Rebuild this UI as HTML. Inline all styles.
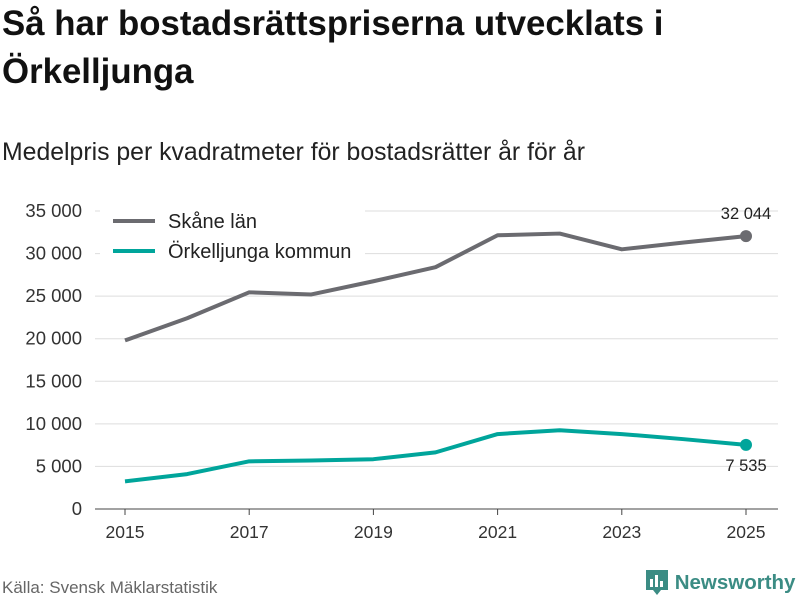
<!DOCTYPE html>
<html><head><meta charset="utf-8">
<style>
body{margin:0;width:800px;height:600px;background:#fff;font-family:"Liberation Sans",sans-serif;overflow:hidden;position:relative;color:#111}
h1{position:absolute;left:2px;top:0px;margin:0;font-size:34.8px;line-height:48px;font-weight:bold;width:720px}
.sub{position:absolute;left:2px;top:139px;font-size:24.8px;color:#222}
.src{position:absolute;left:2px;top:578px;font-size:17px;color:#666}
.logo{position:absolute;left:645px;top:569px;font-size:20.5px;font-weight:bold;color:#3b8c84}
</style></head><body>
<h1>Så har bostadsrättspriserna utvecklats i Örkelljunga</h1>
<div class="sub">Medelpris per kvadratmeter för bostadsrätter år för år</div>
<svg id="chart" width="800" height="600" style="position:absolute;left:0;top:0"></svg>
<div class="src">Källa: Svensk Mäklarstatistik</div>
<div class="logo"><svg width="24" height="26" style="vertical-align:-6px"><rect x="1" y="1" width="22" height="20" fill="#3b8c84"/><polygon points="8,21 12,26 16,21" fill="#3b8c84"/><rect x="5" y="10" width="3" height="8" fill="#fff"/><rect x="10" y="6" width="3" height="12" fill="#fff"/><rect x="15" y="12" width="3" height="6" fill="#fff"/></svg> Newsworthy</div>
<script>
const years=[2015,2016,2017,2018,2019,2020,2021,2022,2023,2024,2025];
const skane=[19800,22400,25450,25200,26750,28400,32150,32350,30500,31300,32044];
const orkel=[3250,4100,5600,5700,5850,6650,8800,9250,8800,8200,7535];
const yTicks=[0,5000,10000,15000,20000,25000,30000,35000];
const xTicks=[2015,2017,2019,2021,2023,2025];
const NS="http://www.w3.org/2000/svg";
const svg=document.getElementById('chart');
const x=v=>125+(v-2015)*62.1;
const y=v=>509-v/35000*298;
const fmt=v=>v.toString().replace(/\B(?=(\d{3})+(?!\d))/g," ");
function mk(t,a){const e=document.createElementNS(NS,t);for(const k in a)e.setAttribute(k,a[k]);svg.appendChild(e);return e;}
yTicks.forEach(v=>{
 const l=mk('line',{x1:95,x2:778,y1:y(v),y2:y(v),stroke:v===0?'#444':'#ddd','stroke-width':1});
 
 
 const t=mk('text',{x:82,y:y(v)+6,'text-anchor':'end','font-size':18.5,fill:'#333'});
 t.textContent=fmt(v);
 
 
});
xTicks.forEach(v=>{
 const l=mk('line',{x1:x(v),x2:x(v),y1:509,y2:515,stroke:'#444'});
 
 
 const t=mk('text',{x:x(v),y:538,'text-anchor':'middle','font-size':17.5,fill:'#333'});
 t.textContent=v;
 
 
});
const lg=mk('rect',{x:100,y:203,width:265,height:68,fill:'#fff'});


function series(vals,color,name,labelDy){
 const p=mk('polyline',{points:vals.map((v,i)=>x(years[i])+','+y(v)).join(' '),fill:'none',stroke:color,'stroke-width':4,'stroke-linejoin':'round'});
 
 
 const last=vals.length-1;
 const c=mk('circle',{cx:x(years[last]),cy:y(vals[last]),r:6,fill:color});
 
 
 const t=mk('text',{x:x(years[last]),y:y(vals[last])+labelDy,'text-anchor':'middle','font-size':16.5,fill:'#222'});
 t.textContent=fmt(vals[last]);
 
 
}
series(skane,'#6b6b70','skane',-17);
series(orkel,'#00a59b','orkelljunga',26);
[['Skåne län','#6b6b70',221],['Örkelljunga kommun','#00a59b',251]].forEach(([n,c,yy])=>{
 const l=mk('line',{x1:113,x2:155,y1:yy,y2:yy,stroke:c,'stroke-width':4});
 
 
 const t=mk('text',{x:168,y:yy+7,'font-size':20,fill:'#222'});
 t.textContent=n;
 
 
});
</script>
</body></html>
